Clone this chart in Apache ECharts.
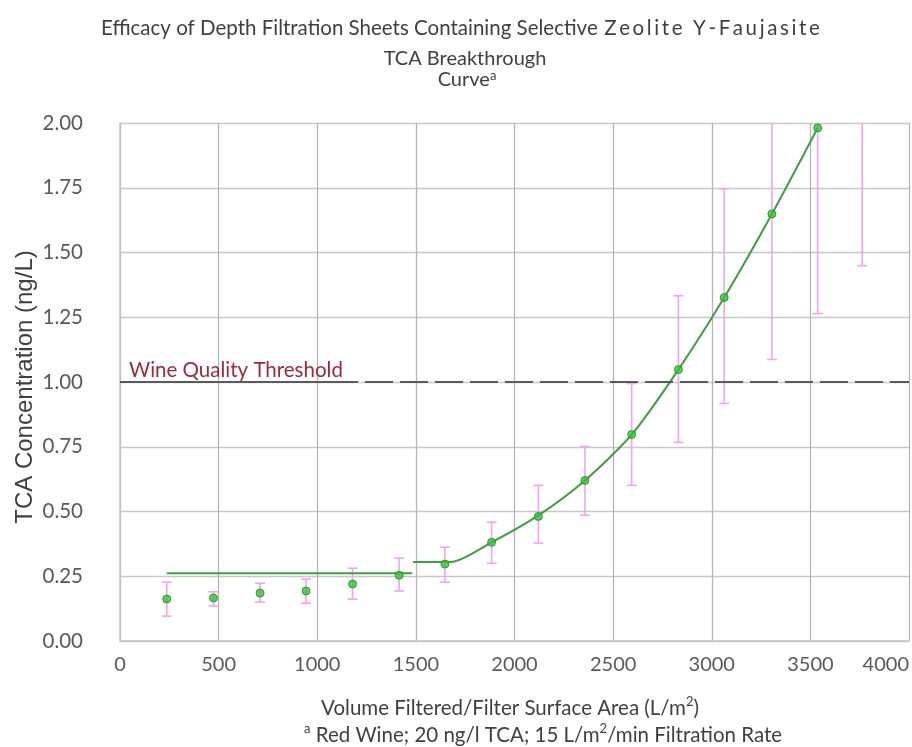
<!DOCTYPE html>
<html><head><meta charset="utf-8">
<script src="https://cdn.jsdelivr.net/npm/echarts@6/dist/echarts.min.js"></script>
<style>html,body{margin:0;padding:0;background:#fff}#c{width:912px;height:747px}</style>
</head><body><div id="c"></div>
<script>
// ---- data ----
const volume  = [237, 474, 710, 943, 1179, 1415, 1647, 1884, 2121, 2357, 2594, 2831, 3063, 3305, 3537, 3763];
const tca     = [0.162, 0.166, 0.185, 0.193, 0.220, 0.254, 0.297, 0.381, 0.481, 0.620, 0.797, 1.048, 1.326, 1.649, 1.981, 2.30];
const errLow  = [0.096, 0.135, 0.150, 0.146, 0.162, 0.193, 0.227, 0.300, 0.378, 0.486, 0.601, 0.767, 0.917, 1.087, 1.264, 1.449];
const errHigh = [0.227, 0.190, 0.223, 0.239, 0.281, 0.320, 0.362, 0.459, 0.601, 0.751, 0.994, 1.333, 1.746, 2.21, 2.70, 3.15];
const plateauX = [237, 1481];
const plateauY = [0.262, 0.262];
const curveX = [1486, 1677, 1884, 2121, 2357, 2594, 2831, 3063, 3305, 3537];
const curveY = [0.305, 0.305, 0.381, 0.485, 0.620, 0.797, 1.048, 1.326, 1.649, 1.981];
const THRESHOLD = 1.0;
const xTicks = [0, 500, 1000, 1500, 2000, 2500, 3000, 3500, 4000];
const yTicks = [0, 0.25, 0.5, 0.75, 1.0, 1.25, 1.5, 1.75, 2.0];

const FONT = 'Lato';
const chart = echarts.init(document.getElementById('c'), null, {renderer: 'canvas'});

const pts = volume.map((v, i) => [v, tca[i]]);
const errs = volume.map((v, i) => [v, errLow[i], errHigh[i]]);
const plateau = plateauX.map((v, i) => [v, plateauY[i]]);
const curve = curveX.map((v, i) => [v, curveY[i]]);

const option = {
  backgroundColor: '#ffffff',
  animation: false,
  grid: {left: 120, right: -2, top: 123, bottom: 106, show: false},
  xAxis: {
    type: 'value', min: xTicks[0], max: xTicks[xTicks.length - 1], interval: xTicks[1] - xTicks[0],
    axisLine: {show: true, lineStyle: {color: '#c8c8c8', width: 1.5}},
    axisTick: {show: false},
    splitLine: {show: true, lineStyle: {color: '#b4b4b4', width: 1.3}},
    axisLabel: {fontFamily: FONT, fontSize: 20, color: '#595959', margin: 14, alignMaxLabel: 'right',
      formatter: v => String(v)}
  },
  yAxis: {
    type: 'value', min: yTicks[0], max: yTicks[yTicks.length - 1], interval: yTicks[1] - yTicks[0],
    axisLine: {show: true, lineStyle: {color: '#c8c8c8', width: 1.5}},
    axisTick: {show: false},
    splitLine: {show: true, lineStyle: {color: '#c8c8c8', width: 1.3}},
    axisLabel: {fontFamily: FONT, fontSize: 20.5, color: '#595959', margin: 37,
      formatter: v => v.toFixed(2)}
  },
  series: [
    {
      type: 'line', data: plateau, showSymbol: false, symbol: 'none',
      lineStyle: {color: '#3f9e3f', width: 2}, z: 3,
      markLine: {
        silent: true, symbol: 'none', label: {show: false},
        lineStyle: {type: [28, 7], color: '#5a5a5a', width: 2},
        data: [{yAxis: THRESHOLD}]
      }
    },
    {
      type: 'line', data: curve, showSymbol: false, symbol: 'none', smooth: 0.25,
      lineStyle: {color: '#3f9e3f', width: 2}, z: 3
    },
    {
      type: 'custom', data: errs, z: 2,
      renderItem: function (params, api) {
        const x = api.value(0), lo = api.value(1), hi = api.value(2);
        const cs = params.coordSys;
        const pLo = api.coord([x, lo]), pHi = api.coord([x, hi]);
        const top = Math.max(pHi[1], cs.y), bot = Math.min(pLo[1], cs.y + cs.height);
        const st = {stroke: '#f0a4f0', lineWidth: 1.6};
        const ch = [{type: 'line', shape: {x1: pLo[0], y1: bot, x2: pLo[0], y2: top}, style: st}];
        if (pHi[1] >= cs.y) ch.push({type: 'line', shape: {x1: pHi[0] - 5, y1: pHi[1], x2: pHi[0] + 5, y2: pHi[1]}, style: st});
        if (pLo[1] <= cs.y + cs.height) ch.push({type: 'line', shape: {x1: pLo[0] - 5, y1: pLo[1], x2: pLo[0] + 5, y2: pLo[1]}, style: st});
        return {type: 'group', children: ch};
      }
    },
    {
      type: 'scatter', data: pts, symbol: 'circle', symbolSize: 8, clip: true, z: 4,
      itemStyle: {color: '#2fc42f', borderColor: '#1d8a1d', borderWidth: 1}
    }
  ]
};
chart.setOption(option);

// ---- texts & threshold label (positions derived from the chart scale) ----
const p0 = chart.convertToPixel({gridIndex: 0}, [xTicks[0], THRESHOLD]);
const pTop = chart.convertToPixel({gridIndex: 0}, [xTicks[0], yTicks[yTicks.length - 1]]);
const pBot = chart.convertToPixel({gridIndex: 0}, [xTicks[0], yTicks[0]]);
const ctx = document.createElement('canvas').getContext('2d');
ctx.font = '20.5px ' + FONT;
const lblW = ctx.measureText('Wine Quality Threshold').width;
const spaced = 'Zeolite Y-Faujasite'.split('').map(c => '{sp|' + c + '}').join('');

chart.setOption({
  graphic: [
    {type: 'text', style: {
      x: 461, y: 28, text: '{t|Efficacy of Depth Filtration Sheets Containing Selective }' + spaced,
      align: 'center', verticalAlign: 'middle',
      rich: {t: {fontFamily: FONT, fontSize: 20.5, fill: '#404040'},
             sp: {fontFamily: FONT, fontSize: 20.5, fill: '#404040', padding: [0, 1.3, 0, 1.3]}}
    }},
    {type: 'text', style: {x: 465, y: 59, text: 'TCA Breakthrough', align: 'center', verticalAlign: 'middle',
      font: '20px ' + FONT, fill: '#404040'}},
    {type: 'text', style: {x: 467, y: 80, text: '{t|Curve}{s|a}', align: 'center', verticalAlign: 'middle',
      rich: {t: {fontFamily: FONT, fontSize: 20, fill: '#404040', lineHeight: 22},
             s: {fontFamily: FONT, fontSize: 13, fill: '#404040', verticalAlign: 'top', lineHeight: 13}}}},
    {type: 'text', x: 25, y: (pTop[1] + pBot[1]) / 2 + 5, rotation: Math.PI / 2,
      style: {x: 0, y: 0, text: 'TCA Concentration (ng/L)', align: 'center', verticalAlign: 'middle',
        font: '24px "Liberation Sans"', fill: '#404040'}},
    {type: 'line', shape: {x1: p0[0], y1: p0[1], x2: p0[0] + 10 + lblW, y2: p0[1]},
      style: {stroke: '#5a5a5a', lineWidth: 2}, z: 10},
    {type: 'text', style: {x: p0[0] + 9, y: p0[1] - 1, text: 'Wine Quality Threshold', align: 'left',
      verticalAlign: 'bottom', font: '20.5px ' + FONT, fill: '#9b2a3c'}, z: 11},
    {type: 'text', style: {x: 510, y: 708, text: '{t|Volume Filtered/Filter Surface Area (L/m}{s|2}{t|)}',
      align: 'center', verticalAlign: 'middle',
      rich: {t: {fontFamily: FONT, fontSize: 20.5, fill: '#404040', lineHeight: 26},
             s: {fontFamily: FONT, fontSize: 13, fill: '#404040', verticalAlign: 'top', lineHeight: 13}}}},
    {type: 'text', style: {x: 304, y: 735, text: '{s|a}{t| Red Wine; 20 ng/l TCA; 15 L/m}{s|2}{t|/min Filtration Rate}',
      align: 'left', verticalAlign: 'middle',
      rich: {t: {fontFamily: FONT, fontSize: 20.5, fill: '#404040', lineHeight: 26},
             s: {fontFamily: FONT, fontSize: 13, fill: '#404040', verticalAlign: 'top', lineHeight: 13}}}}
  ]
});
</script>
</body></html>
